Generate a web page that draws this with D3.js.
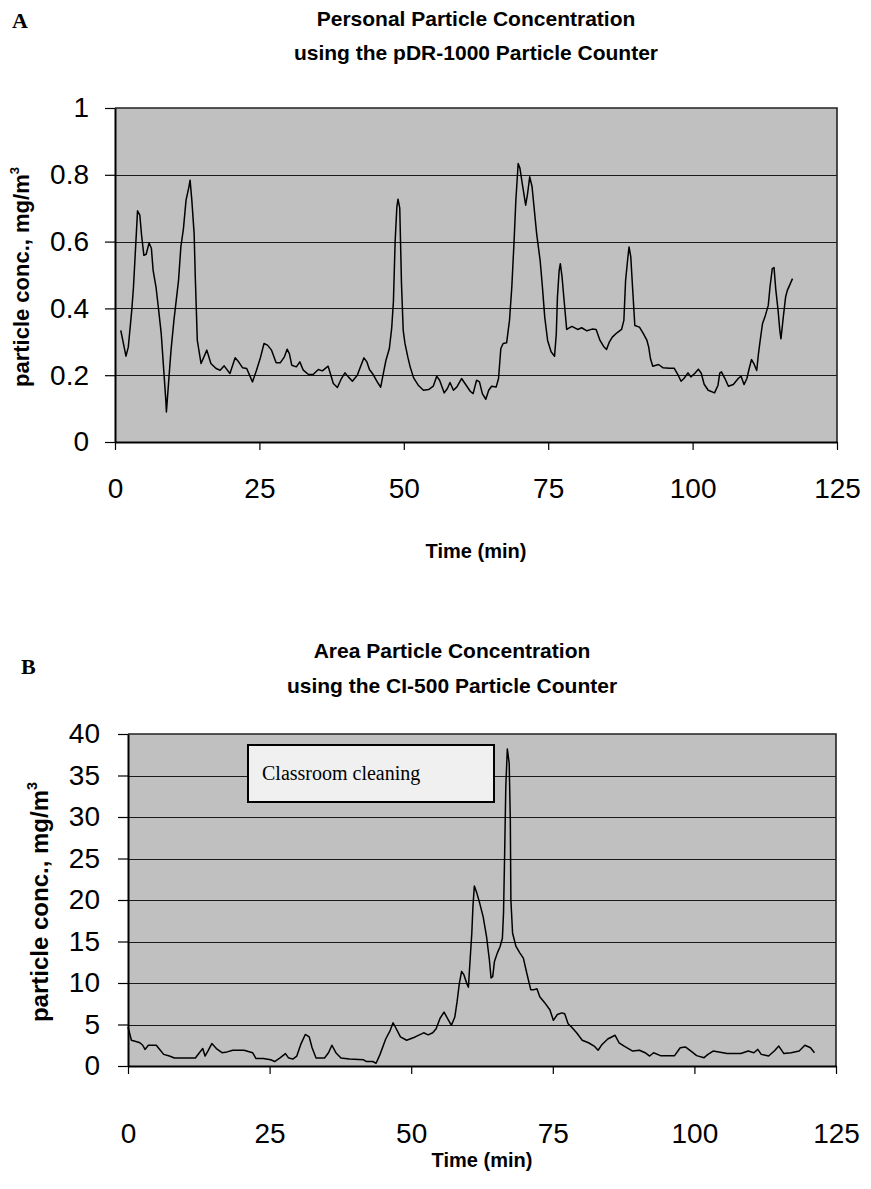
<!DOCTYPE html>
<html>
<head>
<meta charset="utf-8">
<script src="https://cdn.jsdelivr.net/npm/d3@7"></script>
<style>
  html, body { margin: 0; padding: 0; background: #fff; }
  svg { display: block; }
</style>
</head>
<body>
<svg id="chart" width="871" height="1189"></svg>
<script>
// ---------- Data: Panel A (pDR-1000, personal) ----------
const timeA = [1, 1.9, 2.3, 2.9, 3.2, 3.6, 3.9, 4.3, 4.6, 5.0, 5.4, 5.9, 6.3, 6.6, 7.1, 7.5, 8.0, 8.4, 8.8, 8.9, 9.35, 9.7, 10.2, 11.0, 11.4, 11.85, 12.3, 12.8, 13.0, 13.3, 13.7, 13.9, 14.25, 14.9, 15.9, 16.6, 17.5, 18.2, 18.9, 19.9, 20.8, 21.4, 22.1, 22.8, 23.8, 24.5, 25.2, 25.8, 26.4, 27.1, 27.9, 28.6, 29.3, 29.8, 30.2, 30.6, 31.4, 32.0, 32.6, 33.5, 34.3, 35.2, 35.9, 36.9, 37.8, 38.5, 39.2, 39.8, 40.4, 41.1, 41.95, 42.5, 43.1, 43.6, 44.05, 44.7, 45.4, 46.0, 46.4, 46.9, 47.5, 47.9, 48.2, 48.5, 48.8, 49.0, 49.3, 49.6, 49.9, 50.2, 50.7, 51.1, 51.7, 52.5, 53.4, 54.3, 55.1, 55.7, 56.2, 57.0, 57.55, 58.0, 58.6, 59.2, 60.0, 60.8, 61.5, 62.0, 62.6, 63.1, 63.6, 64.2, 64.7, 65.2, 66.0, 66.4, 66.8, 67.2, 67.8, 68.3, 68.7, 69.1, 69.4, 69.8, 70.1, 70.6, 71.1, 71.4, 71.8, 72.2, 73.0, 73.6, 74.0, 74.4, 74.9, 75.5, 76.1, 76.4, 76.6, 76.9, 77.1, 77.4, 77.7, 78.2, 79.1, 80.1, 80.8, 81.7, 82.6, 83.3, 83.97, 84.6, 85.1, 85.6, 86.1, 86.9, 87.7, 88.1, 88.4, 88.8, 89.0, 89.3, 89.6, 90.0, 90.8, 91.5, 92.1, 92.4, 92.7, 93.1, 94.1, 94.9, 96.0, 96.8, 97.5, 98.0, 98.5, 99.2, 99.7, 100.4, 101.0, 101.5, 102.0, 102.7, 103.8, 104.4, 104.7, 105.0, 105.6, 106.2, 107.05, 107.9, 108.4, 108.9, 109.4, 109.8, 110.2, 110.6, 111.1, 111.4, 111.7, 112.1, 112.6, 113.1, 113.4, 113.8, 114.1, 114.4, 114.8, 115.1, 115.3, 115.7, 116.1, 116.4, 117.3];
const concA = [0.334, 0.257, 0.284, 0.394, 0.464, 0.594, 0.692, 0.679, 0.619, 0.559, 0.562, 0.596, 0.58, 0.514, 0.464, 0.404, 0.325, 0.225, 0.125, 0.09, 0.195, 0.275, 0.364, 0.484, 0.584, 0.639, 0.724, 0.764, 0.784, 0.724, 0.624, 0.494, 0.304, 0.235, 0.275, 0.235, 0.22, 0.215, 0.228, 0.205, 0.252, 0.24, 0.222, 0.22, 0.18, 0.215, 0.254, 0.295, 0.29, 0.275, 0.237, 0.237, 0.254, 0.278, 0.264, 0.23, 0.225, 0.24, 0.215, 0.202, 0.202, 0.217, 0.213, 0.227, 0.175, 0.163, 0.19, 0.207, 0.195, 0.182, 0.2, 0.225, 0.252, 0.24, 0.217, 0.202, 0.18, 0.164, 0.2, 0.244, 0.28, 0.34, 0.42, 0.6, 0.704, 0.727, 0.70, 0.474, 0.334, 0.295, 0.254, 0.225, 0.192, 0.17, 0.155, 0.157, 0.167, 0.197, 0.185, 0.147, 0.16, 0.178, 0.155, 0.165, 0.19, 0.17, 0.152, 0.145, 0.185, 0.18, 0.145, 0.128, 0.155, 0.167, 0.165, 0.19, 0.28, 0.295, 0.297, 0.364, 0.464, 0.604, 0.724, 0.834, 0.82, 0.764, 0.709, 0.74, 0.794, 0.765, 0.624, 0.544, 0.464, 0.374, 0.304, 0.27, 0.257, 0.324, 0.434, 0.514, 0.534, 0.494, 0.434, 0.337, 0.346, 0.337, 0.342, 0.333, 0.338, 0.337, 0.304, 0.286, 0.277, 0.30, 0.314, 0.327, 0.337, 0.364, 0.484, 0.554, 0.584, 0.554, 0.464, 0.349, 0.344, 0.324, 0.304, 0.284, 0.25, 0.227, 0.232, 0.222, 0.221, 0.221, 0.2, 0.182, 0.19, 0.207, 0.195, 0.206, 0.218, 0.206, 0.173, 0.155, 0.147, 0.17, 0.206, 0.21, 0.19, 0.167, 0.172, 0.19, 0.197, 0.172, 0.19, 0.22, 0.247, 0.235, 0.214, 0.264, 0.304, 0.354, 0.379, 0.409, 0.464, 0.519, 0.522, 0.457, 0.394, 0.334, 0.309, 0.374, 0.434, 0.454, 0.489];

// ---------- Data: Panel B (CI-500, area) ----------
const timeB = [0, 0.6, 1.4, 2.1, 2.6, 3.0, 3.6, 5.0, 5.6, 6.3, 7.3, 8.2, 10.2, 11.9, 12.6, 13.2, 13.6, 14.1, 14.8, 15.6, 16.6, 17.5, 18.5, 20.5, 22.0, 22.6, 23.9, 25.2, 25.9, 26.9, 27.8, 28.3, 29.1, 29.8, 30.5, 31.3, 32.0, 32.5, 33.2, 34.7, 35.4, 36.0, 36.7, 37.6, 39.1, 41.6, 42.1, 43.2, 43.8, 44.5, 45.5, 46.3, 46.8, 47.2, 48.1, 49.2, 50.7, 52.2, 53.0, 53.8, 54.4, 55.1, 55.8, 56.4, 57.1, 57.7, 58.1, 58.5, 58.9, 59.3, 59.8, 60.1, 60.4, 60.7, 60.9, 61.15, 61.6, 62.1, 62.7, 63.3, 63.8, 64.1, 64.4, 64.7, 65.2, 65.7, 66.1, 66.3, 66.5, 66.7, 66.97, 67.3, 67.5, 67.6, 67.9, 68.5, 69.2, 69.8, 70.4, 71.1, 71.7, 72.2, 72.7, 73.6, 74.5, 75.1, 75.8, 76.6, 77.1, 77.7, 78.3, 79.2, 80.2, 81.3, 82.3, 83.0, 83.7, 84.7, 86.0, 86.7, 87.6, 89.1, 90.3, 91.3, 92.1, 92.8, 94.0, 95.5, 96.5, 97.5, 98.4, 99.4, 100.4, 101.7, 102.4, 103.3, 104.3, 105.8, 108.2, 109.5, 110.5, 111.2, 111.8, 113.1, 114.1, 114.9, 115.8, 117.1, 118.5, 119.5, 120.5, 121.2];
const concB = [4.7, 3.1, 2.96, 2.8, 2.5, 2.0, 2.5, 2.5, 2.0, 1.4, 1.2, 0.96, 0.96, 0.96, 1.6, 2.1, 1.2, 1.8, 2.7, 2.1, 1.6, 1.7, 1.9, 1.9, 1.6, 0.9, 0.9, 0.75, 0.54, 1.0, 1.5, 1.0, 0.83, 1.2, 2.6, 3.8, 3.5, 2.2, 0.96, 0.96, 1.6, 2.5, 1.6, 0.96, 0.83, 0.75, 0.54, 0.54, 0.33, 1.4, 3.25, 4.3, 5.2, 4.7, 3.5, 3.1, 3.5, 4.0, 3.75, 4.0, 4.5, 5.75, 6.5, 5.75, 4.9, 5.9, 7.75, 9.96, 11.4, 11.0, 9.96, 9.5, 12.8, 16.0, 19.2, 21.7, 20.8, 19.6, 18.0, 15.6, 12.8, 10.6, 10.8, 12.6, 13.6, 14.4, 15.4, 18.4, 25.6, 33.6, 38.2, 36.5, 29.6, 20.0, 16.0, 14.4, 13.6, 13.0, 11.2, 9.2, 9.2, 9.3, 8.35, 7.6, 6.75, 5.5, 6.2, 6.4, 6.3, 5.1, 4.7, 4.0, 3.1, 2.8, 2.4, 1.9, 2.6, 3.25, 3.7, 2.8, 2.4, 1.8, 1.9, 1.6, 1.2, 1.6, 1.25, 1.25, 1.25, 2.2, 2.3, 1.8, 1.25, 1.0, 1.4, 1.8, 1.7, 1.5, 1.5, 1.8, 1.6, 2.0, 1.4, 1.2, 1.8, 2.4, 1.5, 1.6, 1.8, 2.5, 2.2, 1.6];

// ---------- Tick labels ----------
const xTicks = [0, 25, 50, 75, 100, 125];
const yTicksA = [0, 0.2, 0.4, 0.6, 0.8, 1];
const yTicksB = [0, 5, 10, 15, 20, 25, 30, 35, 40];

// ---------- Texts ----------
const panelA = { letter: "A", title1: "Personal Particle Concentration", title2: "using the pDR-1000 Particle Counter" };
const panelB = { letter: "B", title1: "Area Particle Concentration", title2: "using the CI-500 Particle Counter", note: "Classroom cleaning" };
const xTitle = "Time (min)";

const svg = d3.select("#chart");
const SANS = "Liberation Sans, Arial, Helvetica, sans-serif";
const SERIF = "Liberation Serif, Times New Roman, serif";

function drawPanel(cfg) {
  const { x0, x1, y0, y1, yMax, yTicks, times, vals, fmt,
          letter, letterX, letterY, title1, title2, titleX, titleY1, titleY2,
          yLabX, yLabY, yLabSize, labPadY, labPadX, xTitleY } = cfg;

  const x = d3.scaleLinear().domain([0, 125]).range([x0, x1]);
  const y = d3.scaleLinear().domain([0, yMax]).range([y1, y0]);

  const g = svg.append("g");

  // plot background
  g.append("rect")
    .attr("x", x0).attr("y", y0)
    .attr("width", x1 - x0).attr("height", y1 - y0)
    .attr("fill", "#c0c0c0");

  // gridlines
  g.append("g").selectAll("line")
    .data(yTicks.filter(d => d > 0 && d < yMax))
    .join("line")
    .attr("x1", x0).attr("x2", x1)
    .attr("y1", d => Math.round(y(d)) + 0.5).attr("y2", d => Math.round(y(d)) + 0.5)
    .attr("stroke", "#1a1a1a").attr("stroke-width", 1.2);

  // top and right frame
  g.append("path")
    .attr("d", `M${x0},${y0}H${x1}V${y1}`)
    .attr("fill", "none").attr("stroke", "#222").attr("stroke-width", 1.6);

  // line
  const line = d3.line().x(d => x(d[0])).y(d => y(d[1])).curve(d3.curveLinear);
  g.append("path")
    .datum(times.map((t, i) => [t, vals[i]]))
    .attr("d", line)
    .attr("fill", "none").attr("stroke", "#000").attr("stroke-width", 1.5)
    .attr("stroke-linejoin", "round");

  // y axis
  const ya = g.append("g").attr("transform", `translate(${x0},0)`)
    .call(d3.axisLeft(y).tickValues(yTicks).tickFormat(fmt).tickSize(10).tickSizeOuter(0).tickPadding(labPadY));
  ya.select(".domain").attr("stroke", "#000").attr("stroke-width", 2);
  ya.selectAll(".tick line").attr("stroke", "#000").attr("stroke-width", 1.2);
  ya.selectAll(".tick text").attr("font-family", SANS).attr("font-size", 28).attr("fill", "#000");

  // x axis
  const xa = g.append("g").attr("transform", `translate(0,${y1})`)
    .call(d3.axisBottom(x).tickValues(xTicks).tickFormat(d3.format("d")).tickSize(8).tickSizeOuter(0).tickPadding(labPadX));
  xa.select(".domain").attr("stroke", "#000").attr("stroke-width", 2);
  xa.selectAll(".tick line").attr("stroke", "#000").attr("stroke-width", 1.2);
  xa.selectAll(".tick text").attr("font-family", SANS).attr("font-size", 28).attr("fill", "#000");

  // panel letter
  svg.append("text").attr("x", letterX).attr("y", letterY)
    .attr("font-family", SERIF).attr("font-weight", "bold").attr("font-size", 22)
    .text(letter);

  // titles
  svg.append("text").attr("x", titleX).attr("y", titleY1).attr("text-anchor", "middle")
    .attr("font-family", SANS).attr("font-weight", "bold").attr("font-size", 21)
    .text(title1);
  svg.append("text").attr("x", titleX).attr("y", titleY2).attr("text-anchor", "middle")
    .attr("font-family", SANS).attr("font-weight", "bold").attr("font-size", 21)
    .text(title2);

  // x title
  svg.append("text").attr("x", (x0 + x1) / 2).attr("y", xTitleY).attr("text-anchor", "middle")
    .attr("font-family", SANS).attr("font-weight", "bold").attr("font-size", 20)
    .text(xTitle);

  // y title with superscript
  const yt = svg.append("text")
    .attr("transform", `translate(${yLabX},${yLabY}) rotate(-90)`)
    .attr("text-anchor", "middle")
    .attr("font-family", SANS).attr("font-weight", "bold").attr("font-size", yLabSize);
  yt.append("tspan").text("particle conc., mg/m");
  yt.append("tspan").attr("dy", -yLabSize * 0.45).attr("font-size", yLabSize * 0.6).text("3");

  return { x, y };
}

// Panel A
drawPanel({
  x0: 115, x1: 837, y0: 108, y1: 442, yMax: 1, yTicks: yTicksA,
  times: timeA, vals: concA, fmt: d => d === 0 || d === 1 ? d3.format("d")(d) : d3.format(".1f")(d),
  letter: panelA.letter, letterX: 12, letterY: 28,
  title1: panelA.title1, title2: panelA.title2, titleX: 476, titleY1: 26, titleY2: 60,
  yLabX: 29, yLabY: 277, yLabSize: 22, labPadY: 16, labPadX: 28, xTitleY: 558
});

// Panel B
drawPanel({
  x0: 128, x1: 836, y0: 734, y1: 1066, yMax: 40, yTicks: yTicksB,
  times: timeB, vals: concB, fmt: d3.format("d"),
  letter: panelB.letter, letterX: 21, letterY: 674,
  title1: panelB.title1, title2: panelB.title2, titleX: 452, titleY1: 658, titleY2: 693,
  yLabX: 48, yLabY: 902, yLabSize: 24, labPadY: 18, labPadX: 49, xTitleY: 1167
});

// Annotation box in Panel B
const note = svg.append("g");
note.append("rect")
  .attr("x", 248).attr("y", 745).attr("width", 246).attr("height", 57)
  .attr("fill", "#f0f0f0").attr("stroke", "#000").attr("stroke-width", 2);
note.append("text")
  .attr("x", 262).attr("y", 780)
  .attr("font-family", SERIF).attr("font-size", 20).attr("fill", "#000")
  .text(panelB.note);
</script>
</body>
</html>
